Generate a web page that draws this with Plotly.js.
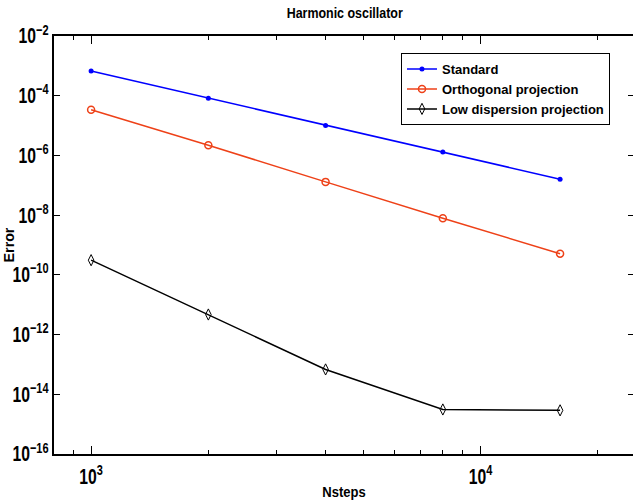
<!DOCTYPE html>
<html>
<head>
<meta charset="utf-8">
<script src="https://cdn.plot.ly/plotly-3.0.1.min.js"></script>
<style>
html,body{margin:0;padding:0;overflow:hidden;background:#fff;}
#chart{width:636px;height:500px;}
</style>
</head>
<body>
<div id="chart"></div>
<script>
const nsteps = [1000, 2000, 4000, 8000, 16000];
const errStandard = [6.7e-4, 8.3e-5, 1.0e-5, 1.3e-6, 1.6e-7];
const errOrthogonal = [3.4e-5, 2.2e-6, 1.3e-7, 7.9e-9, 5.1e-10];
const errLowDispersion = [3.1e-10, 4.7e-12, 6.8e-14, 3.1e-15, 2.9e-15];
const seriesNames = ["Standard", "Orthogonal projection", "Low dispersion projection"];

const FONT = '"Liberation Sans", Arial, sans-serif';

const traces = [
  {x: nsteps, y: errStandard, name: seriesNames[0], mode: 'lines+markers',
   line: {color: '#0000ff', width: 1.5},
   marker: {symbol: 'circle', size: 5, color: '#0000ff'}},
  {x: nsteps, y: errOrthogonal, name: seriesNames[1], mode: 'lines+markers',
   line: {color: '#ee4118', width: 1.5},
   marker: {symbol: 'circle-open', size: 7, color: '#ee4118', line: {width: 1.5}}},
  {x: nsteps, y: errLowDispersion, name: seriesNames[2], mode: 'lines+markers',
   line: {color: '#000000', width: 1.5},
   marker: {symbol: 'diamond-tall-open', size: 8, color: '#000000', line: {width: 1}}}
];

const layout = {
  width: 636, height: 500,
  margin: {l: 54, r: 2, t: 36, b: 46},
  paper_bgcolor: '#fff', plot_bgcolor: '#fff',
  font: {family: FONT, size: 14, color: '#000', weight: 'bold'},
  title: {text: 'Harmonic oscillator', font: {family: FONT, size: 15, weight: 'bold'},
          x: 0.542, xanchor: 'center', y: 0.974, yanchor: 'middle'},
  showlegend: true,
  legend: {x: 0.9586, xanchor: 'right', y: 0.959, yanchor: 'top',
           bordercolor: '#000', borderwidth: 1, bgcolor: '#fff',
           font: {family: FONT, size: 13, weight: 'bold'}, tracegroupgap: 0,
           itemwidth: 30},
  xaxis: {type: 'log', range: [Math.log10(803), Math.log10(24770)],
          dtick: 1, exponentformat: 'power', showgrid: false, zeroline: false,
          ticks: 'inside', ticklen: 8, tickwidth: 1, tickcolor: '#000',
          showline: true, linecolor: '#000', linewidth: 2, mirror: 'allticks',
          ticklabelstandoff: 3,
          minor: {ticks: 'inside', ticklen: 4, dtick: 'D1', tickcolor: '#000', showgrid: false},
          tickfont: {family: FONT, size: 17, weight: 'bold'},
          title: {text: 'Nsteps', font: {family: FONT, size: 15, weight: 'bold'}, standoff: 4}},
  yaxis: {type: 'log', range: [-16, -2], dtick: 2, exponentformat: 'power',
          showgrid: false, zeroline: false,
          ticks: 'inside', ticklen: 6, tickwidth: 1, tickcolor: '#000',
          showline: true, linecolor: '#000', linewidth: 2, mirror: 'allticks',
          tickfont: {family: FONT, size: 17, weight: 'bold'},
          title: {text: 'Error', font: {family: FONT, size: 15, weight: 'bold'}, standoff: 6}}
};

function squeeze(root, sel, sx) {
  root.querySelectorAll(sel).forEach(function (t) {
    const x = parseFloat(t.getAttribute('x')) || 0;
    const y = parseFloat(t.getAttribute('y')) || 0;
    const tr = t.getAttribute('transform') || '';
    t.setAttribute('transform', tr + ' translate(' + x + ',' + y + ') scale(' + sx + ',1) translate(' + (-x) + ',' + (-y) + ')');
  });
}

const gd = document.getElementById('chart');
Plotly.newPlot(gd, traces, layout, {displayModeBar: false, staticPlot: true}).then(function () {
  squeeze(gd, '.xtick text', 0.74);
  squeeze(gd, '.ytick text', 0.74);
  squeeze(gd, 'text.gtitle', 0.83);
  squeeze(gd, 'text.xtitle', 0.87);
  squeeze(gd, 'text.ytitle', 0.95);
});
</script>
</body>
</html>
